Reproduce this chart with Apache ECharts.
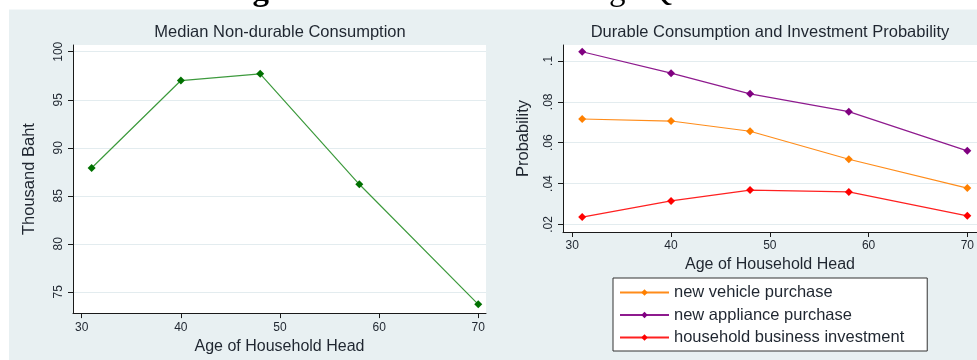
<!DOCTYPE html>
<html>
<head>
<meta charset="utf-8">
<title>Patterns across Age Quantiles</title>
<script src="https://cdn.jsdelivr.net/npm/echarts@6/dist/echarts.min.js"></script>
<style>
  html, body { margin: 0; padding: 0; background: #ffffff; }
  #chart { width: 977px; height: 360px; }
</style>
</head>
<body>
<div id="chart"></div>
<script>
// Age of household head at each quantile
const ages = [31, 40, 48, 58, 70];
// Median non-durable consumption (thousand baht)
const nonDurable = [87.9, 97.0, 97.7, 86.2, 73.7];
// Purchase / investment probabilities
const vehicle = [0.0716, 0.0706, 0.0656, 0.0519, 0.0378];
const appliance = [0.1045, 0.0940, 0.0839, 0.0752, 0.0560];
const business = [0.0236, 0.0315, 0.0368, 0.0359, 0.0242];

// Tick values
const ageTicks = [30, 40, 50, 60, 70];
const consTicks = [75, 80, 85, 90, 95, 100];
const probTicks = [0.02, 0.04, 0.06, 0.08, 0.1];

const seriesNames = ['new vehicle purchase', 'new appliance purchase', 'household business investment'];

const FONT = '"Liberation Sans", Arial, sans-serif';
const SERIF = '"Liberation Serif", "Times New Roman", serif';
const TXT = '#1f2630';
const AXIS = '#1a1a1a';
const GRIDLINE = '#e3ecef';

function pairs(xs, ys) { return xs.map((x, i) => [x, ys[i]]); }
function probLabel(v) { return String(+v.toFixed(2)).replace(/^0/, ''); }

function xAxisFor(gridIndex, min, max, labelMargin) {
  return {
    type: 'value', gridIndex, min, max,
    axisLine: { show: true, onZero: false, lineStyle: { color: AXIS, width: 1 } },
    axisTick: { show: true, length: 5, customValues: ageTicks, lineStyle: { color: AXIS } },
    axisLabel: { customValues: ageTicks, margin: labelMargin, color: TXT, fontSize: 12, fontFamily: FONT },
    splitLine: { show: false },
    name: 'Age of Household Head', nameLocation: 'middle', nameGap: 18,
    nameTextStyle: { color: TXT, fontSize: 16, fontFamily: FONT }
  };
}

function yAxisFor(gridIndex, min, max, ticks, fmt, name, gap) {
  return {
    type: 'value', gridIndex, min, max,
    axisLine: { show: true, onZero: false, lineStyle: { color: AXIS, width: 1 } },
    axisTick: { show: true, length: 5, customValues: ticks, lineStyle: { color: AXIS } },
    axisLabel: { customValues: ticks, rotate: 90, margin: 8, color: TXT, fontSize: 12, fontFamily: FONT, formatter: fmt },
    splitLine: { show: true, lineStyle: { color: GRIDLINE, width: 1 } },
    name, nameLocation: 'middle', nameGap: gap,
    nameTextStyle: { color: TXT, fontSize: 16.5, fontFamily: FONT }
  };
}

function lineSeries(name, data, lineColor, dotColor, xi, yi) {
  return {
    name, type: 'line', xAxisIndex: xi, yAxisIndex: yi, data,
    symbol: 'diamond', symbolSize: 8, showAllSymbol: true,
    lineStyle: { color: lineColor, width: 1.2 },
    itemStyle: { color: dotColor },
    emphasis: { disabled: true },
    animation: false
  };
}

const chart = echarts.init(document.getElementById('chart'), null, { renderer: 'canvas' });

chart.setOption({
  backgroundColor: '#e8f0f2',
  animation: false,
  graphic: [
    { type: 'rect', shape: { x: 0, y: 0, width: 977, height: 9.5 }, style: { fill: '#ffffff' }, z: 1 },
    { type: 'rect', shape: { x: 0, y: 0, width: 9, height: 360 }, style: { fill: '#ffffff' }, z: 1 },
    { type: 'text', x: 499, y: 8, z: 2,
      style: {
        text: '{b|Figure 2.5:} {r|Patterns across Age Quantiles}',
        textAlign: 'center', textVerticalAlign: 'bottom',
        rich: {
          b: { fontFamily: SERIF, fontSize: 33, fontWeight: 'bold', fill: '#000000' },
          r: { fontFamily: SERIF, fontSize: 33, fontWeight: 'normal', fill: '#000000' }
        }
      } }
  ],
  title: [
    { text: 'Median Non-durable Consumption', left: 280, top: 24, textAlign: 'center', padding: 0,
      textStyle: { color: TXT, fontSize: 16.5, fontWeight: 'normal', fontFamily: FONT } },
    { text: 'Durable Consumption and Investment Probability', left: 770, top: 24, textAlign: 'center', padding: 0,
      textStyle: { color: TXT, fontSize: 16.5, fontWeight: 'normal', fontFamily: FONT } }
  ],
  grid: [
    { left: 73, top: 45, width: 413, height: 269, show: true, backgroundColor: '#ffffff', borderWidth: 0, containLabel: false },
    { left: 563, top: 45, width: 414, height: 187, show: true, backgroundColor: '#ffffff', borderWidth: 0, containLabel: false }
  ],
  xAxis: [
    xAxisFor(0, 29.12, 70.78, 9),
    xAxisFor(1, 29.06, 70.98, 8)
  ],
  yAxis: [
    yAxisFor(0, 72.79, 100.70, consTicks, v => String(v), 'Thousand Baht', 35),
    yAxisFor(1, 0.0163, 0.1078, probTicks, probLabel, 'Probability', 31)
  ],
  legend: {
    data: seriesNames,
    orient: 'vertical',
    left: 613, top: 278,
    padding: [6, 23, 5, 6],
    itemGap: 5.5,
    itemWidth: 49, itemHeight: 8,
    backgroundColor: '#ffffff',
    borderColor: '#333333', borderWidth: 1, borderRadius: 0,
    textStyle: { color: TXT, fontSize: 16.5, fontFamily: FONT },
    selectedMode: false
  },
  tooltip: { show: false },
  series: [
    lineSeries('Median non-durable consumption', pairs(ages, nonDurable), '#3d9a3d', '#007000', 0, 0),
    lineSeries(seriesNames[0], pairs(ages, vehicle), '#ff8c1a', '#ff8000', 1, 1),
    lineSeries(seriesNames[1], pairs(ages, appliance), '#8e1a8e', '#800080', 1, 1),
    lineSeries(seriesNames[2], pairs(ages, business), '#ff2020', '#ff0000', 1, 1)
  ]
});
</script>
</body>
</html>
